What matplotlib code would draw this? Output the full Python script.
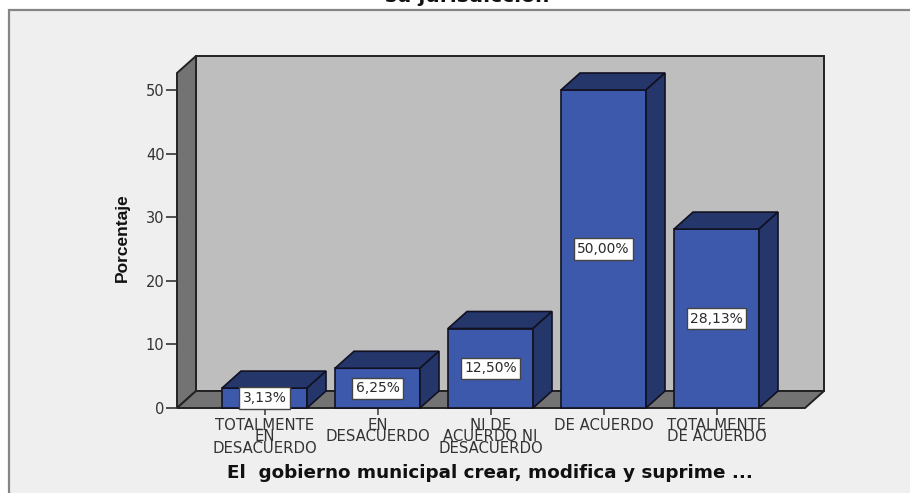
import matplotlib
matplotlib.use("Agg")
import matplotlib.pyplot as plt
from matplotlib.patches import Polygon, Rectangle

categories = ["TOTALMENTE\nEN\nDESACUERDO", "EN\nDESACUERDO", "NI DE\nACUERDO NI\nDESACUERDO",
              "DE ACUERDO", "TOTALMENTE\nDE ACUERDO"]
percent = [3.13, 6.25, 12.50, 50.00, 28.13]
labels = ["3,13%", "6,25%", "12,50%", "50,00%", "28,13%"]
yticks = [0, 10, 20, 30, 40, 50]

title = "su jurisdicción"
xtitle = "El  gobierno municipal crear, modifica y suprime ..."
ytitle = "Porcentaje"

W, H = 910, 493
bg = "#efefef"
wall = "#bebebe"
side = "#737373"
front = "#3d59ab"
dark = "#24366a"
edge = "#111122"

fig = plt.figure(figsize=(W/100, H/100), dpi=100, facecolor="white")
fig.add_artist(Rectangle((9/W, -0.1), 1.1, (H-10)/H + 0.1, transform=fig.transFigure,
                         facecolor=bg, edgecolor="#858585", lw=1.6, zorder=-1))

# axes area is the front plane of the 3d box
ax = fig.add_axes([177/W, 1-408/H, (805-177)/W, (408-73)/H])
ax.patch.set_visible(False)
xmin, xmax = (177-264.5)/113, (805-264.5)/113
ytop = (408-73)/6.36
ax.set_xlim(xmin, xmax)
ax.set_ylim(0, ytop)
for s in ax.spines.values():
    s.set_visible(False)

dx = 19/113
dy = 17/6.36
bw = 85/113


def poly(pts, color, lw=1.4, ec="#222222", z=1):
    ax.add_patch(Polygon(pts, closed=True, facecolor=color, edgecolor=ec, lw=lw,
                         clip_on=False, zorder=z, joinstyle="miter"))


poly([(xmin+dx, dy), (xmax+dx, dy), (xmax+dx, ytop+dy), (xmin+dx, ytop+dy)], wall)
poly([(xmin, 0), (xmin+dx, dy), (xmin+dx, ytop+dy), (xmin, ytop)], side)
poly([(xmin, 0), (xmax, 0), (xmax+dx, dy), (xmin+dx, dy)], side)

for i, v in enumerate(percent):
    l, r = i-bw/2, i+bw/2
    poly([(l, 0), (r, 0), (r, v), (l, v)], front, 1.2, edge, 2)
    poly([(l, v), (r, v), (r+dx, v+dy), (l+dx, v+dy)], dark, 1.2, edge, 2)
    poly([(r, 0), (r+dx, dy), (r+dx, v+dy), (r, v)], dark, 1.2, edge, 2)
    ax.text(i, v/2, labels[i], ha="center", va="center", fontsize=10, color="#2a2a2a", zorder=3,
            bbox=dict(boxstyle="square,pad=0.26", facecolor="white", edgecolor="#444444", lw=1.0))

ax.set_yticks(yticks)
ax.set_xticks(range(len(categories)))
ax.set_xticklabels(categories, linespacing=0.72)
ax.tick_params(axis="y", length=8, width=1.2, color="#333333", labelsize=10.5, labelcolor="#333333", pad=1)
ax.tick_params(axis="x", length=5, width=1.2, color="#444444", labelsize=10.7, labelcolor="#333333", pad=2)

fig.text(467.5/W, 1-2/H, title, ha="center", va="baseline", fontsize=14.5, fontweight="bold", color="#111111")
fig.text(490/W, 1-473/H, xtitle, ha="center", va="center", fontsize=13.2, fontweight="bold", color="#111111")
fig.text(122/W, 1-238/H, ytitle, ha="center", va="center", rotation=90, fontsize=12.5,
         fontweight="bold", family="Liberation Sans", color="#111111")

fig.savefig("out.png", dpi=100, facecolor="white")
